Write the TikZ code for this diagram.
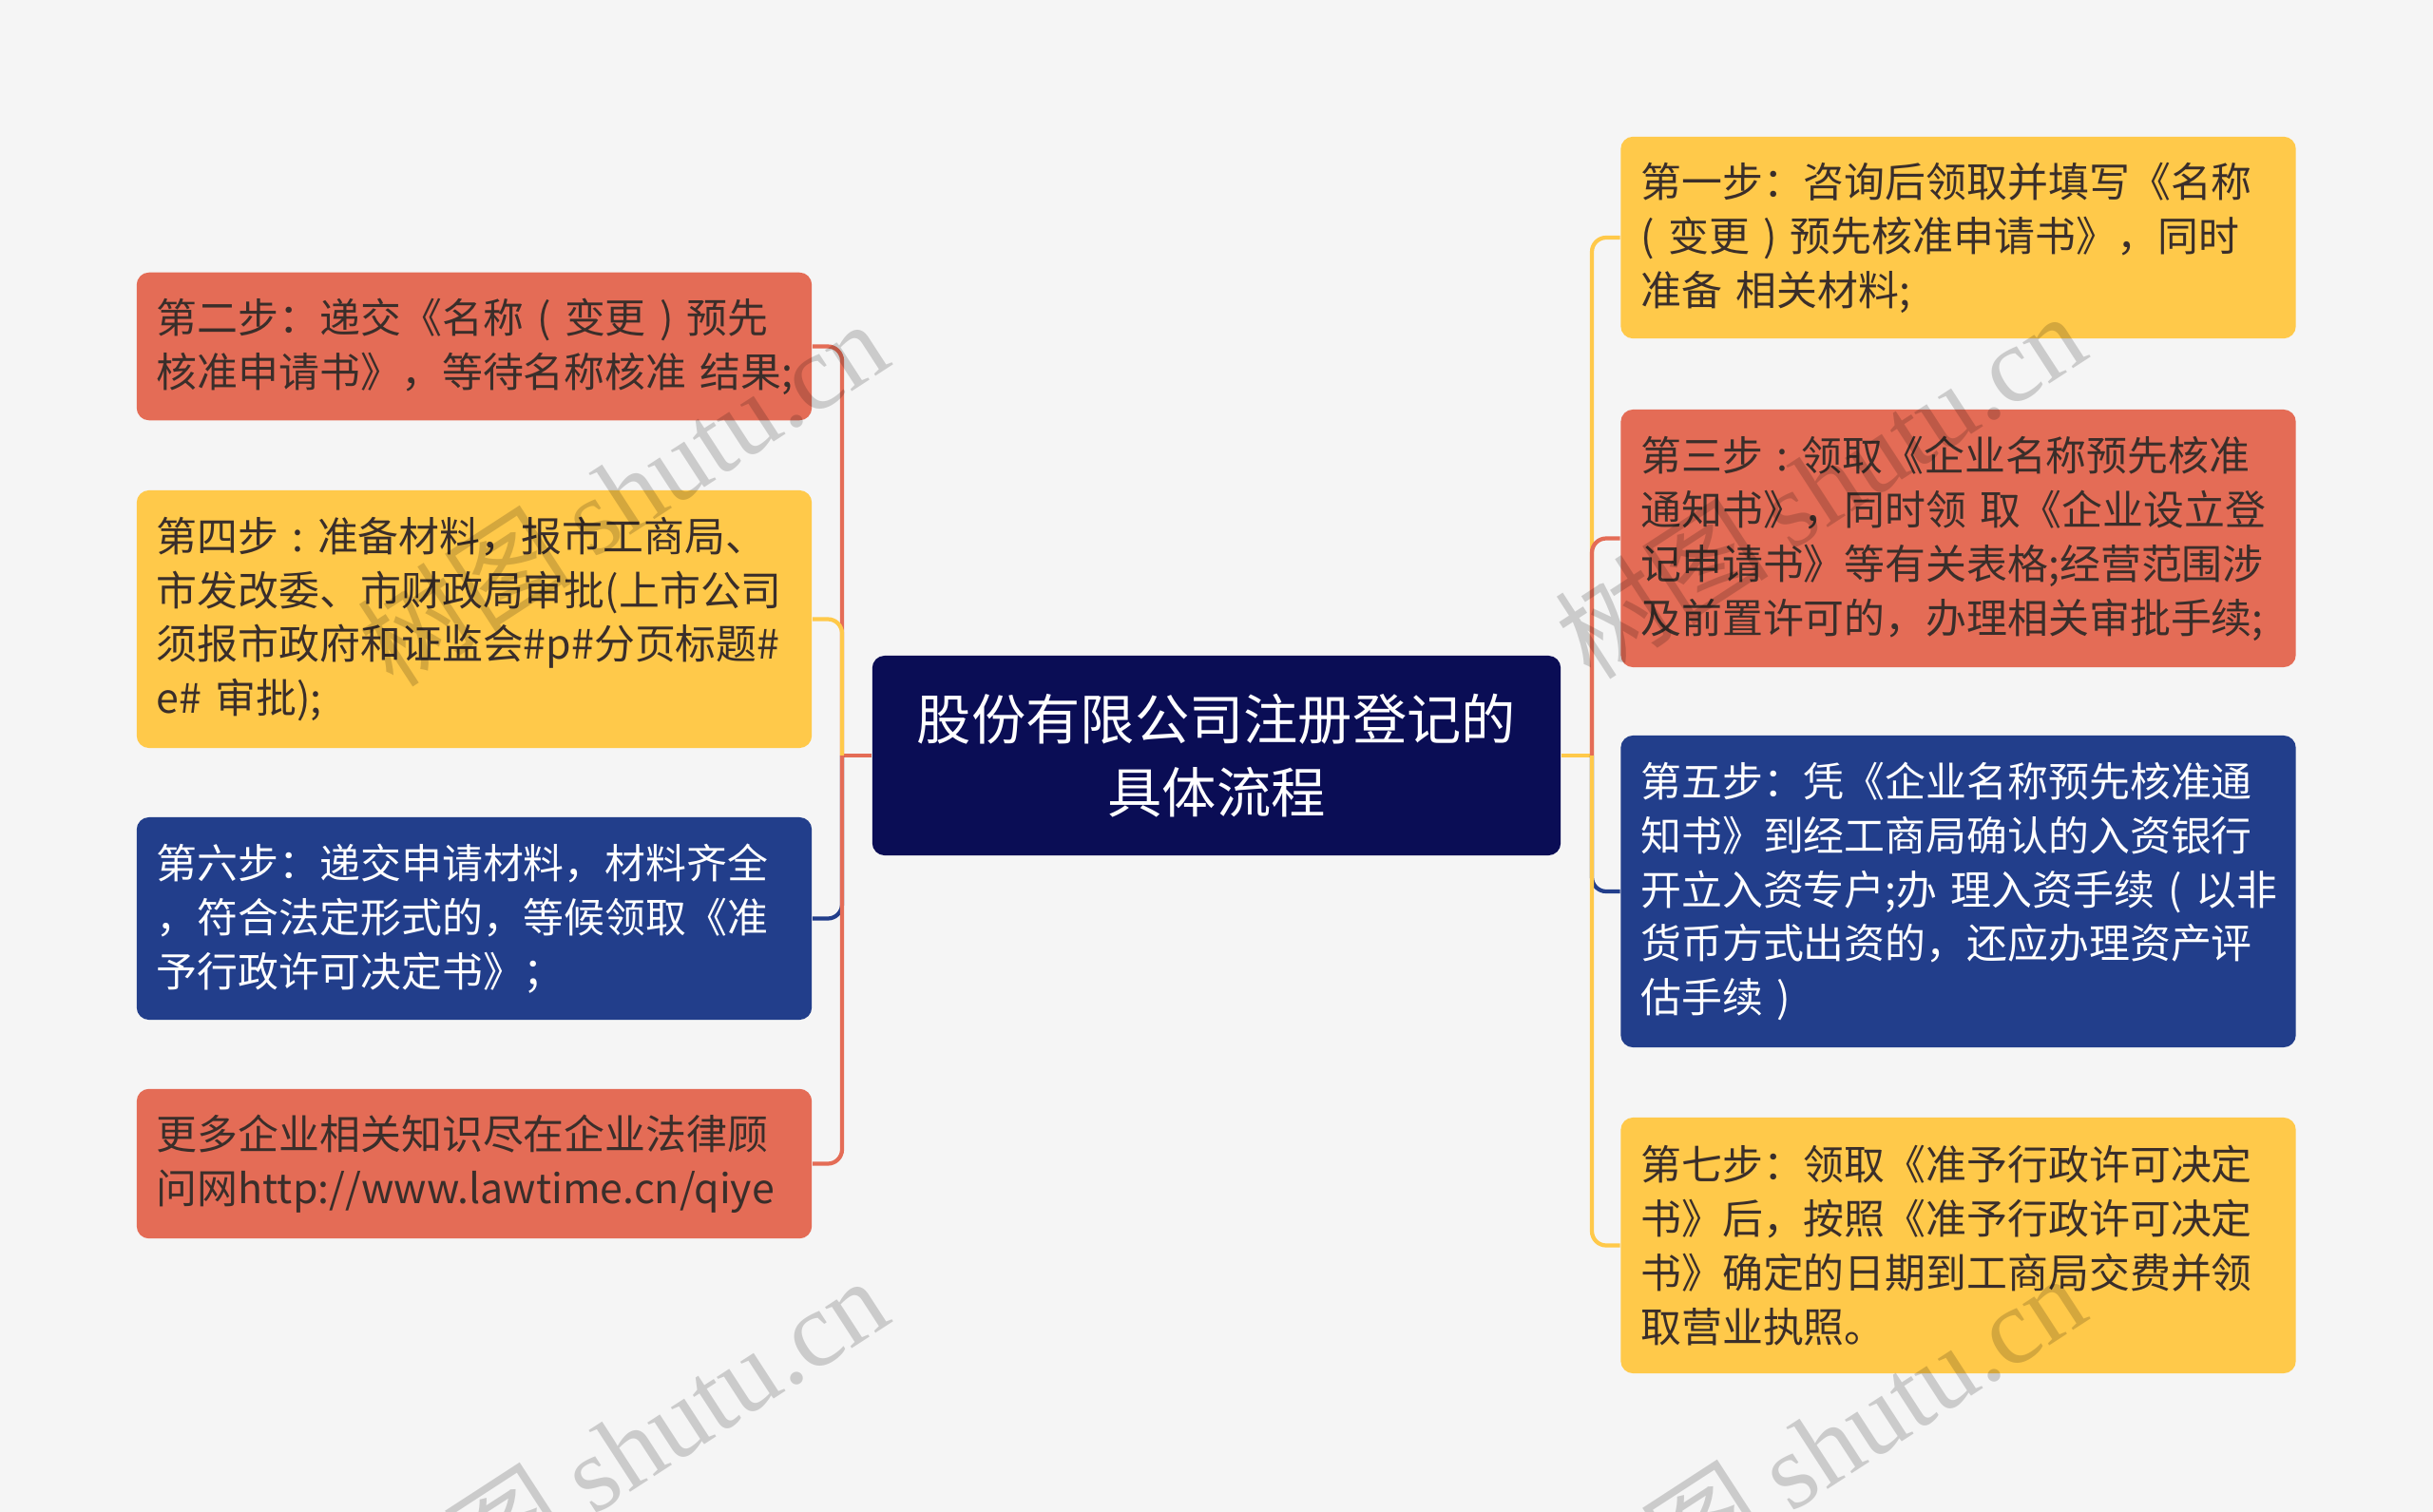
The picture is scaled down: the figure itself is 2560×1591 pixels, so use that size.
\documentclass[tikz,border=0pt]{standalone}
\usepackage{fontspec}
\setmainfont{Noto Sans CJK SC}
\newfontfamily\wmlatin{Liberation Serif}
\usetikzlibrary{positioning}

\definecolor{bgcol}{HTML}{F5F5F5}
\definecolor{stepred}{HTML}{E46C56}
\definecolor{stepyellow}{HTML}{FFC94A}
\definecolor{stepblue}{HTML}{223E8B}
\definecolor{rootnavy}{HTML}{0A0D55}
\definecolor{darktext}{HTML}{3A2E2A}

\tikzset{
  stepbox/.style={rounded corners=0.13cm, text width=6.68cm, inner xsep=0.21cm,
    inner ysep=0.27cm, align=left, font=\fontsize{12.2}{16.2}\selectfont},
  redbox/.style={stepbox, fill=stepred, text=darktext},
  yellowbox/.style={stepbox, fill=stepyellow, text=darktext},
  bluebox/.style={stepbox, fill=stepblue, text=white},
  rootbox/.style={rounded corners=0.13cm, fill=rootnavy, text=white, align=center,
    minimum width=7.24cm, minimum height=2.10cm, font=\fontsize{16.3}{21.8}\selectfont},
  link/.style={line width=1.2pt, rounded corners=0.15cm},
  wmark/.style={text=black, text opacity=0.17, rotate=33, font=\fontsize{32}{32}\selectfont}
}

\begin{document}
\begin{tikzpicture}
  [x=0.01cm,y=-0.01cm]
  \fill[bgcol] (0,0) rectangle (2560,1591);
  \useasboundingbox (0,0) rectangle (2560,1591);

  \node (root)[rootbox] at (1280,795) {股份有限公司注册登记的\\具体流程};

  % left side
  \node (l1)[redbox, minimum height=1.55cm] at (499,364.5) {第二步：递交《名称~(~变更~)~预先\\核准申请书》，等待名称核准~结果;};
  \node (l2)[yellowbox, minimum height=2.71cm] at (499,651.5) {第四步~:~准备材料，报市工商局、\\市发改委、市财政局审批(上市公司\\须报市政府和证监会\#p\#分页标题\#\\e\#~审批);};
  \node (l3)[bluebox, minimum height=2.13cm] at (499,966.5) {第六步：递交申请材料，材料齐全\\，符合法定形式的，等候领取《准\\予行政许可决定书》；};
  \node (l4)[redbox, minimum height=1.53cm] at (499,1224.5) {更多企业相关知识尽在企业法律顾\\问网http://www.lawtime.cn/qiye};

  % right side
  \node (r1)[yellowbox, minimum height=2.12cm] at (2060.5,250) {第一步：咨询后领取并填写《名称\\(~变更~)~预先核准申请书》，同时\\准备~相关材料;};
  \node (r2)[redbox, minimum height=2.71cm] at (2060.5,566.5) {第三步~:~领取《企业名称预先核准\\通知书》，同时领~取《企业设立登\\记申请书》等有关表格;经营范围涉\\及前置许可的，办理相关审批手续;};
  \node (r3)[bluebox, minimum height=3.28cm] at (2060.5,938) {第五步：凭《企业名称预先核准通\\知书》到经工商局确认的入资银行\\开立入资专户;办~理入资手续~(~以非\\货币方式出资的，还应办理资产评\\估手续~)};
  \node (r4)[yellowbox, minimum height=2.69cm] at (2060.5,1310.5) {第七步：领取《准予行政许可决定\\书》后，按照《准予行政许可决定\\书》确定的日期到工商局交费并领\\取营业执照。};

  \coordinate (jl) at (886,795);
  \coordinate (jr) at (1675,795);

  \draw[link, stepred] (root.west) -- (jl);
  \draw[link, stepyellow] (root.east) -- (jr);
  \foreach \leaf/\col in {l1/stepred,l2/stepyellow,l3/stepblue,l4/stepred}
    \draw[link, \col] (jl) |- (\leaf.east);
  \foreach \leaf/\col in {r1/stepyellow,r2/stepred,r3/stepblue,r4/stepyellow}
    \draw[link, \col] (jr) |- (\leaf.west);

  % watermarks
  \node (wm1)[wmark] at (655,518) {树图 {\wmlatin shutu.cn}};
  \node (wm2)[wmark] at (1915,510) {树图 {\wmlatin shutu.cn}};
  \node (wm3)[wmark] at (655,1525) {树图 {\wmlatin shutu.cn}};
  \node (wm4)[wmark] at (1915,1522) {树图 {\wmlatin shutu.cn}};

\end{tikzpicture}
\end{document}
